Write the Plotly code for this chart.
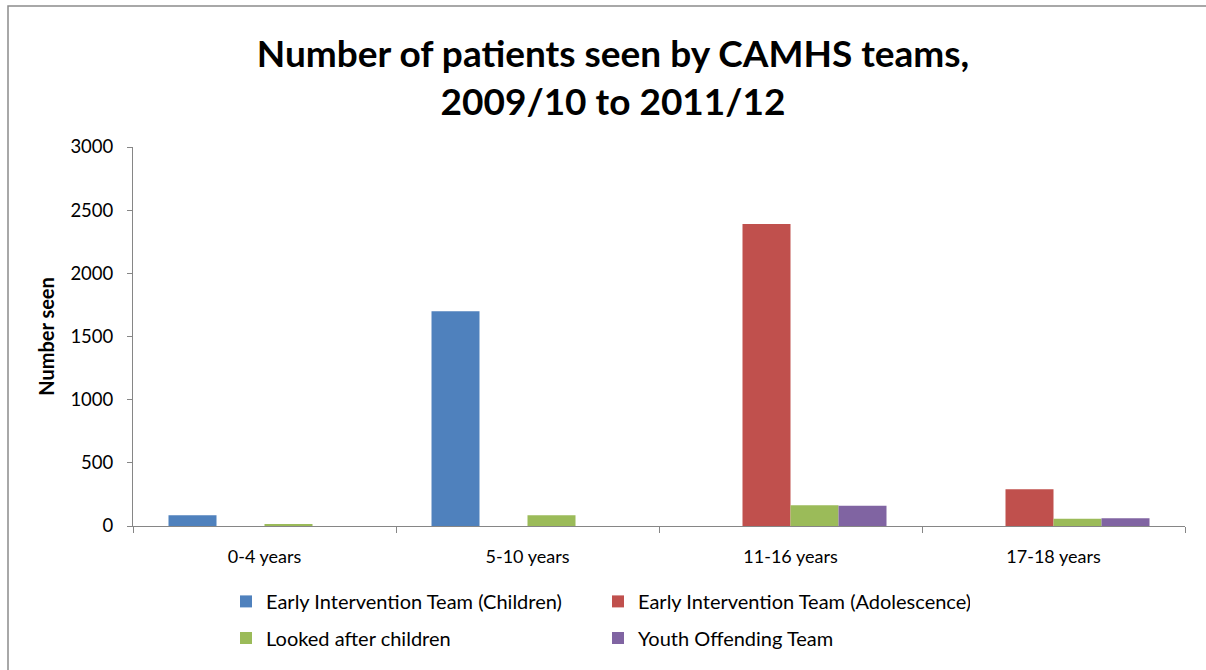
import plotly.graph_objects as go

categories = ["0-4 years", "5-10 years", "11-16 years", "17-18 years"]
series_names = [
    "Early Intervention Team (Children)",
    "Early Intervention Team (Adolescence)",
    "Looked after children",
    "Youth Offending Team",
]
eit_children = [85, 1700, None, None]
eit_adolescence = [None, None, 2390, 290]
looked_after = [16, 85, 165, 57]
youth_offending = [None, None, 160, 62]
y_ticks = [0, 500, 1000, 1500, 2000, 2500, 3000]

colors = ["#4F81BD", "#C0504D", "#9BBB59", "#8064A2"]
legends = ["legend", "legend", "legend2", "legend2"]
values = [eit_children, eit_adolescence, looked_after, youth_offending]

FONT = "Lato"

fig = go.Figure()
for name, vals, col, lg in zip(series_names, values, colors, legends):
    fig.add_trace(go.Bar(
        x=categories, y=vals, name=name,
        marker=dict(color=col, line=dict(width=0)),
        legend=lg,
    ))

W, H = 1206, 670
L, R, T, B = 133, 21, 147, 141
pw = W - L - R
ph = H - T - B

def px_x(x):
    return (x - L) / pw

def px_y(y):
    return (H - B - y) / ph

fig.update_layout(
    width=W, height=H,
    margin=dict(l=L, r=R, t=T, b=B),
    paper_bgcolor="white", plot_bgcolor="white",
    barmode="group", bargap=0.27, bargroupgap=0,
    font=dict(family=FONT, size=18, color="#000000"),
    title=dict(
        text="<b>Number of patients seen by CAMHS teams,<br>2009/10 to 2011/12</b>",
        x=613 / W, xanchor="center", y=1 - 67 / H, yanchor="middle",
        font=dict(family=FONT, size=37, color="#000000"),
    ),
    xaxis=dict(
        showline=True, linecolor="#868686", linewidth=1,
        ticks="outside", tickson="boundaries", ticklen=6, tickcolor="#868686",
        showgrid=False, ticklabelstandoff=14,
        tickfont=dict(size=18),
    ),
    yaxis=dict(
        range=[0, 3000], tickvals=y_ticks,
        showline=True, linecolor="#868686", linewidth=1,
        ticks="outside", ticklen=5, tickcolor="#868686",
        showgrid=False, zeroline=False, ticklabelstandoff=10,
        tickfont=dict(size=18.5),
        title=dict(text="<b>Number seen</b>", font=dict(size=20), standoff=10),
    ),
    legend=dict(
        orientation="h", x=px_x(226), xanchor="left", y=px_y(605), yanchor="middle",
        entrywidth=327, entrywidthmode="pixels", font=dict(size=20),
        bgcolor="rgba(0,0,0,0)", traceorder="normal",
    ),
    legend2=dict(
        orientation="h", x=px_x(226), xanchor="left", y=px_y(642), yanchor="middle",
        entrywidth=327, entrywidthmode="pixels", font=dict(size=20),
        bgcolor="rgba(0,0,0,0)", traceorder="normal",
    ),
    shapes=[dict(
        type="rect", xref="paper", yref="paper",
        x0=px_x(8), x1=px_x(1260), y0=px_y(720), y1=px_y(5),
        line=dict(color="#8C8C8C", width=1.5), fillcolor="rgba(0,0,0,0)",
        layer="below",
    )],
)

fig.write_html(
    "out.html",
    config={"displayModeBar": False},
    post_script="document.body.style.margin='0px';",
)
